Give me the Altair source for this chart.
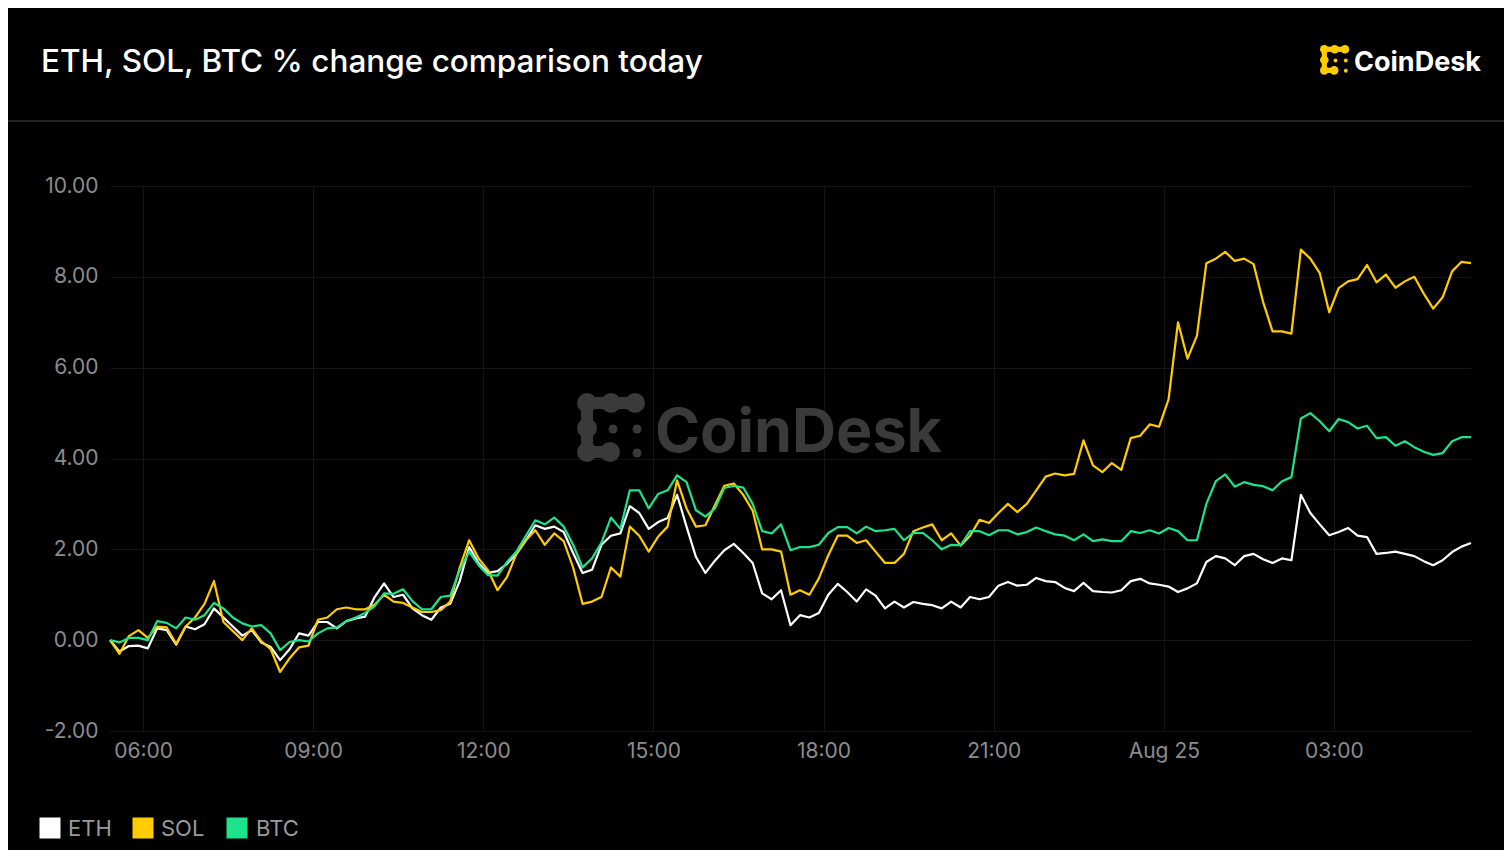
import altair as alt
import pandas as pd

title_text = "ETH, SOL, BTC % change comparison today"
brand_text = "CoinDesk"
series_names = ["ETH", "SOL", "BTC"]
series_colors = ["#ffffff", "#ffcc00", "#1de38c"]

# 10-minute samples from 05:25 Aug 24 to 05:25 Aug 25
times = pd.date_range("2024-08-24 05:25", periods=145, freq="10min")

eth = [0.0, -0.25, -0.13, -0.12, -0.18, 0.26, 0.22, -0.1, 0.3, 0.24,
       0.35, 0.7, 0.5, 0.3, 0.1, 0.22, -0.05, -0.15, -0.44, -0.2,
       0.15, 0.1, 0.4, 0.4, 0.26, 0.42, 0.48, 0.52, 0.95, 1.25,
       0.95, 1.0, 0.7, 0.55, 0.45, 0.72, 0.8, 1.3, 2.05, 1.7,
       1.48, 1.52, 1.68, 1.9, 2.2, 2.53, 2.45, 2.5, 2.38, 1.92,
       1.48, 1.55, 2.1, 2.3, 2.35, 2.95, 2.8, 2.45, 2.6, 2.69,
       3.2, 2.5, 1.83, 1.48, 1.75, 1.98, 2.12, 1.92, 1.7, 1.03,
       0.9, 1.1, 0.33, 0.55, 0.5, 0.6, 1.0, 1.24, 1.06, 0.85,
       1.12, 0.98, 0.7, 0.85, 0.72, 0.84, 0.8, 0.77, 0.7, 0.85,
       0.72, 0.95, 0.9, 0.95, 1.2, 1.28, 1.2, 1.22, 1.37, 1.3,
       1.28, 1.15, 1.08, 1.26, 1.08, 1.06, 1.05, 1.1, 1.3, 1.35,
       1.25, 1.22, 1.18, 1.06, 1.14, 1.25, 1.72, 1.85, 1.8, 1.65,
       1.85, 1.9, 1.78, 1.7, 1.8, 1.76, 3.2, 2.8, 2.55, 2.31,
       2.38, 2.47, 2.3, 2.27, 1.9, 1.92, 1.95, 1.9, 1.85, 1.74,
       1.65, 1.76, 1.94, 2.06, 2.14]

sol = [0.0, -0.3, 0.09, 0.22, 0.05, 0.3, 0.28, -0.08, 0.3, 0.5,
       0.8, 1.3, 0.4, 0.2, 0.0, 0.26, -0.02, -0.2, -0.7, -0.4,
       -0.16, -0.12, 0.45, 0.5, 0.68, 0.72, 0.68, 0.68, 0.78, 1.0,
       0.85, 0.82, 0.72, 0.62, 0.62, 0.66, 0.85, 1.6, 2.2, 1.8,
       1.54, 1.1, 1.39, 1.9, 2.2, 2.42, 2.1, 2.35, 2.18, 1.6,
       0.8, 0.85, 0.95, 1.6, 1.4, 2.5, 2.3, 1.95, 2.28, 2.5,
       3.52, 2.9, 2.5, 2.53, 2.97, 3.4, 3.45, 3.2, 2.85, 2.0,
       2.0, 1.95, 1.0, 1.1, 1.0, 1.36, 1.87, 2.3, 2.3, 2.14,
       2.2, 1.95, 1.7, 1.7, 1.9, 2.4, 2.48, 2.55, 2.2, 2.35,
       2.08, 2.3, 2.65, 2.58, 2.8, 3.0, 2.82, 3.0, 3.3, 3.6,
       3.67, 3.63, 3.66, 4.4, 3.85, 3.7, 3.9, 3.75, 4.45, 4.5,
       4.75, 4.7, 5.3, 7.0, 6.2, 6.7, 8.3, 8.4, 8.55, 8.35,
       8.4, 8.28, 7.45, 6.8, 6.8, 6.75, 8.6, 8.4, 8.08, 7.22,
       7.75, 7.9, 7.95, 8.26, 7.88, 8.05, 7.76, 7.9, 8.0, 7.63,
       7.3, 7.55, 8.12, 8.33, 8.3]

btc = [0.0, -0.05, 0.05, 0.05, 0.0, 0.42, 0.38, 0.26, 0.5, 0.45,
       0.55, 0.82, 0.7, 0.5, 0.37, 0.3, 0.33, 0.15, -0.22, -0.04,
       0.0, -0.03, 0.15, 0.26, 0.28, 0.42, 0.5, 0.6, 0.75, 1.03,
       1.02, 1.12, 0.86, 0.68, 0.68, 0.95, 0.98, 1.54, 1.95, 1.65,
       1.43, 1.42, 1.72, 1.95, 2.3, 2.64, 2.55, 2.7, 2.5, 2.1,
       1.6, 1.8, 2.15, 2.7, 2.45, 3.3, 3.3, 2.9, 3.22, 3.3,
       3.63, 3.48, 2.86, 2.72, 2.9, 3.35, 3.4, 3.36, 3.0, 2.4,
       2.35, 2.55, 1.98, 2.05, 2.05, 2.1, 2.36, 2.49, 2.49, 2.35,
       2.5, 2.4, 2.42, 2.45, 2.2, 2.36, 2.36, 2.2, 2.0, 2.1,
       2.09, 2.4, 2.4, 2.31, 2.42, 2.42, 2.33, 2.38, 2.48, 2.4,
       2.33, 2.3, 2.2, 2.33, 2.18, 2.22, 2.18, 2.18, 2.4, 2.36,
       2.42, 2.35, 2.47, 2.4, 2.2, 2.2, 3.0, 3.5, 3.65, 3.38,
       3.48, 3.42, 3.39, 3.3, 3.5, 3.59, 4.88, 5.0, 4.82, 4.6,
       4.87, 4.8, 4.66, 4.72, 4.45, 4.47, 4.28, 4.38, 4.25, 4.15,
       4.08, 4.12, 4.38, 4.47, 4.47]

y_ticks = [-2, 0, 2, 4, 6, 8, 10]
x_tick_times = [(24, 6), (24, 9), (24, 12), (24, 15), (24, 18), (24, 21), (25, 0), (25, 3)]

# ---- build long table
time_str = [t.strftime("%Y-%m-%dT%H:%M:%S") for t in times]
rows = []
for name, vals in zip(series_names, [eth, sol, btc]):
    for t, v in zip(time_str, vals):
        rows.append({"time": t, "series": name, "value": v})
df = pd.DataFrame(rows)

W, H = 1361, 545
FONT = "Inter"
dummy = pd.DataFrame({"k": [0]})

color_scale = alt.Scale(domain=series_names, range=series_colors)

x_axis = alt.Axis(
    values=[alt.DateTime(year=2024, month=8, date=d, hours=h) for d, h in x_tick_times],
    labelExpr="hours(datum.value) == 0 ? timeFormat(datum.value, '%b %d') : timeFormat(datum.value, '%H:%M')",
    title=None, grid=True, gridColor="#141414", gridWidth=1, domain=False, ticks=False,
    labelColor="#8c8c8c", labelFontSize=21, labelFont=FONT, labelPadding=9, labelFlush=False,
)
y_axis = alt.Axis(
    values=y_ticks, title=None, grid=True, gridColor="#141414", gridWidth=1,
    labelExpr="datum.value < 0 ? '-' + format(-datum.value, '.2f') : format(datum.value, '.2f')",
    domain=False, ticks=False, labelColor="#8c8c8c", labelFontSize=21, labelFont=FONT,
    labelPadding=12,
)

lines = alt.Chart(df).mark_line(strokeWidth=2.2, strokeJoin="round").encode(
    x=alt.X("time:T", scale=alt.Scale(nice=False), axis=x_axis),
    y=alt.Y("value:Q", scale=alt.Scale(domain=[-2, 10], nice=False, zero=False), axis=y_axis),
    color=alt.Color("series:N", scale=color_scale, legend=None),
)

OX, OY = 110, 186  # plot origin in page pixels


def icon_layers(x0, y0, s, color):
    """CoinDesk-like bead icon; x0,y0 top-left in page px, s = scale."""
    layers = []
    big = 20 * s
    bar = 12 * s
    pts_big = [(0, 0), (24, 0), (48, 0), (0, 25), (0, 49), (23, 49)]
    pts_small = [(26, 26), (50, 26), (50, 50)]
    bars = [((0, 0), (48, 0)), ((0, 0), (0, 49)), ((0, 49), (23, 49))]
    bx, by = x0 + 10 * s, y0 + 10 * s
    for (a, b) in bars:
        layers.append(
            alt.Chart(dummy).mark_rule(color=color, strokeWidth=bar, strokeCap="butt").encode(
                x=alt.value(bx + a[0] * s - OX), x2=alt.value(bx + b[0] * s - OX),
                y=alt.value(by + a[1] * s - OY), y2=alt.value(by + b[1] * s - OY),
            )
        )
    for (px, py) in pts_big:
        layers.append(
            alt.Chart(dummy).mark_circle(size=big * big, color=color, opacity=1).encode(
                x=alt.value(bx + px * s - OX), y=alt.value(by + py * s - OY)
            )
        )
    for (px, py) in pts_small:
        d = 9 * s
        layers.append(
            alt.Chart(dummy).mark_circle(size=d * d, color=color, opacity=1).encode(
                x=alt.value(bx + px * s - OX), y=alt.value(by + py * s - OY)
            )
        )
    return layers


wm_color = "#3a3a3a"
watermark = icon_layers(577, 393, 1.0, wm_color) + [
    alt.Chart(dummy).mark_text(
        text=brand_text, align="left", baseline="alphabetic", font=FONT, fontSize=61,
        fontWeight=700, color=wm_color,
    ).encode(x=alt.value(655 - OX), y=alt.value(452 - OY))
]

logo = icon_layers(1320, 45, 0.43, "#ffcc00") + [
    alt.Chart(dummy).mark_text(
        text=brand_text, align="left", baseline="alphabetic", font=FONT, fontSize=27,
        fontWeight=700, color="#ffffff",
    ).encode(x=alt.value(1354 - OX), y=alt.value(71 - OY))
]

title = alt.Chart(dummy).mark_text(
    text=title_text, align="left", baseline="alphabetic", font=FONT, fontSize=31.5,
    fontWeight=500, color="#ffffff",
).encode(x=alt.value(41 - OX), y=alt.value(72 - OY))

separator = alt.Chart(dummy).mark_rule(color="#222222", strokeWidth=2).encode(
    x=alt.value(8 - OX), x2=alt.value(1504 - OX), y=alt.value(121 - OY), y2=alt.value(121 - OY)
)

legend_layers = []
legend_sq_x = [50, 143, 237]
legend_lb_x = [68, 161, 256]
for name, col, sx, lx in zip(series_names, series_colors, legend_sq_x, legend_lb_x):
    legend_layers.append(
        alt.Chart(dummy).mark_square(size=441, color=col, opacity=1).encode(
            x=alt.value(sx - OX), y=alt.value(828 - OY)
        )
    )
    legend_layers.append(
        alt.Chart(dummy).mark_text(
            text=name, align="left", baseline="alphabetic", font=FONT, fontSize=22,
            color="#9a9a9a",
        ).encode(x=alt.value(lx - OX), y=alt.value(836 - OY))
    )

chart = alt.layer(
    *watermark, lines, title, separator, *logo, *legend_layers
).properties(
    width=W, height=H,
    padding={"left": OX - 8, "top": OY - 8, "right": 1504 - OX - W, "bottom": 850 - OY - H},
    autosize=alt.AutoSizeParams(type="none"),
    background="#000000",
).configure_view(strokeWidth=0)

chart.save("out.html", embed_options={"renderer": "svg", "actions": False})
